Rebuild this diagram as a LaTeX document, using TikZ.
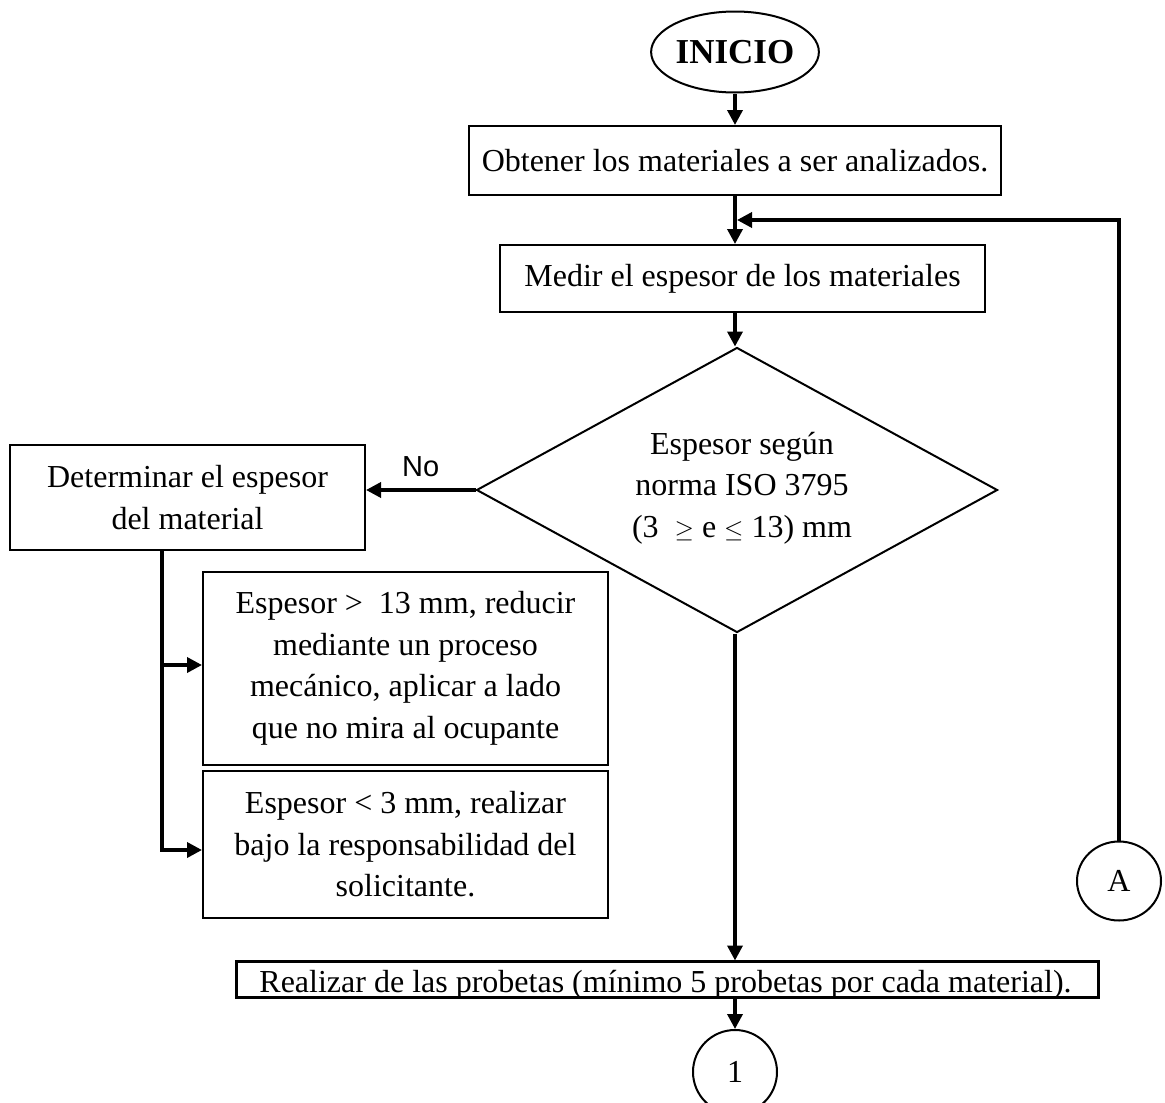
\documentclass[tikz,border=0pt]{standalone}
\usepackage{fontspec}
\setmainfont{Liberation Serif}
\newfontfamily\labelfont{Liberation Sans}
\usetikzlibrary{shapes.geometric,arrows.meta}

\begin{document}
\begin{tikzpicture}[x=1pt,y=-1pt,
  every node/.style={font=\fontsize{32}{41.5}\selectfont},
  procbox/.style={draw,line width=2pt,rectangle,inner sep=0pt,align=center},
  startnode/.style={draw,line width=2pt,ellipse,inner sep=0pt,
    minimum width=165,minimum height=81,font=\fontsize{35}{40}\selectfont\bfseries},
  decision/.style={draw,line width=2pt,diamond,inner sep=0pt,
    minimum width=521,minimum height=285},
  connector/.style={draw,line width=2pt,circle,inner sep=0pt},
  flow/.style={line width=3.5pt,-{Triangle[length=15pt,width=15pt]}},
  plain/.style={line width=3.5pt}]

\useasboundingbox (0,0) rectangle (1165,1103);

% start
\node[startnode] (ini) at (735,52) {INICIO};

% process boxes
\node[procbox,minimum width=532,minimum height=69] (b1) at (735,160.5)
  {Obtener los materiales a ser analizados.};
\node[procbox,minimum width=485,minimum height=67] (b2) at (742.5,278.5)
  {Medir el espesor de los materiales};

% thickness check
\node[decision] (dec) at (737,490) {};
\node[align=center] at (742,488)
  {Espesor según\\norma ISO 3795\\(3 \ \ensuremath{\geq} e \ensuremath{\leq} 13) mm};

\node[procbox,minimum width=355,minimum height=105] (b3) at (187.5,497.5)
  {Determinar el espesor\\del material};
\node[procbox,minimum width=405,minimum height=193] (b4) at (405.5,668.5)
  {Espesor > \ 13 mm, reducir\\mediante un proceso\\mecánico, aplicar a lado\\que no mira al ocupante};
\node[procbox,minimum width=405,minimum height=147] (b5) at (405.5,844.5)
  {Espesor < 3 mm, realizar\\bajo la responsabilidad del\\solicitante.};

% specimen box, its text runs into the lower border
\node[procbox,minimum width=861,minimum height=35] (real) at (667.5,979) {};
\begin{scope}
  \clip (real.south west) rectangle (real.north east);
  \node[anchor=base,inner sep=0pt] at (665.5,992)
    {Realizar de las probetas (mínimo 5 probetas por cada material).};
\end{scope}
\draw[line width=2pt] (real.south west) rectangle (real.north east);

% connectors
\node[connector,minimum width=84] (one) at (735,1072) {1};
\node[connector,minimum width=84,minimum height=79,ellipse] (A) at (1119,881) {A};

\coordinate (merge) at (737,220);
\coordinate (bend4) at (162,665);
\coordinate (bend5) at (162,850);

\draw[flow] (ini.south) -- (b1.north -| ini.south);
\draw[flow] (b1.south -| ini.south) -- (b2.north -| ini.south);
\draw[flow] (b2.south -| ini.south) -- (dec.north -| ini.south);
\draw[flow] (A.north) |- (merge);
\draw[flow] (dec.west) -- (dec.west -| b3.east)
  node[midway,above=8pt,font=\fontsize{29}{34}\labelfont] {No};
\draw[flow] (b3.south -| bend5) -- (bend5) -- (bend5 -| b5.west);
\draw[flow] (bend4) -- (bend4 -| b4.west);
\draw[flow] (dec.south -| ini.south) -- (real.north -| ini.south);
\draw[flow] (real.south -| ini.south) -- (one.north);

\end{tikzpicture}
\end{document}
